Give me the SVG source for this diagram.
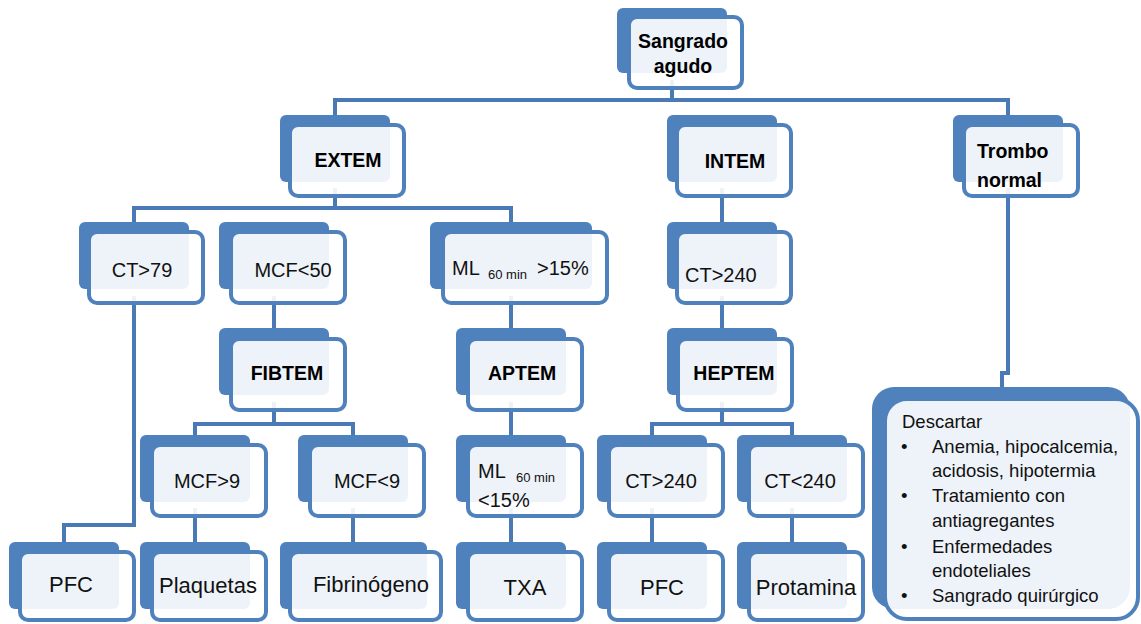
<svg xmlns="http://www.w3.org/2000/svg" width="1141" height="624" viewBox="0 0 1141 624">
<style>
.back{fill:#4F81BD}
.front{fill:#fff;fill-opacity:0.9;stroke:#4F81BD;stroke-width:4}
.conn{fill:none;stroke:#4A7AB5;stroke-width:4}
.b{font-family:"Liberation Sans",Arial,sans-serif;font-weight:bold;font-size:19.5px;fill:#000;text-anchor:middle}
.t{font-family:"Liberation Sans",Arial,sans-serif;font-size:20px;fill:#111;text-anchor:middle}
.t2{font-family:"Liberation Sans",Arial,sans-serif;font-size:22px;fill:#111;text-anchor:middle}
.s{font-family:"Liberation Sans",Arial,sans-serif;font-size:13px;fill:#111}
.l{font-family:"Liberation Sans",Arial,sans-serif;font-size:20px;fill:#111}
.d{font-family:"Liberation Sans",Arial,sans-serif;font-size:18.5px;fill:#111}
</style>
<rect width="1141" height="624" fill="#fff"/>
<g id="connectors">
<path class="conn" d="M672 80 V100 M335 115 V100 H1008 V115"/>
<path class="conn" d="M335 188 V208 M134 222 V208 H511 V222"/>
<path class="conn" d="M722 188 V222"/>
<path class="conn" d="M134 296 V525 H64 V542"/>
<path class="conn" d="M274 296 V328 M511 296 V328 M722 296 V328"/>
<path class="conn" d="M274 402 V424 M195 435 V424 H353 V435"/>
<path class="conn" d="M511 402 V435"/>
<path class="conn" d="M722 402 V424 M652 435 V424 H792 V435"/>
<path class="conn" d="M195 508 V542 M353 508 V542 M511 508 V542 M652 508 V542 M792 508 V542"/>
<path class="conn" d="M1008 188 V373 H1002 V387"/>
</g>
<g id="n-sangrado"><rect class="back" x="617" y="8" width="110" height="65" rx="6"/><rect class="front" x="629" y="17" width="113" height="71" rx="8"/><text class="b" x="683" y="48">Sangrado</text><text class="b" x="683" y="73">agudo</text></g>
<g id="n-extem"><rect class="back" x="280" y="115" width="110" height="67" rx="6"/><rect class="front" x="290" y="125" width="114" height="71" rx="8"/><text class="b" x="348" y="167">EXTEM</text></g>
<g id="n-intem"><rect class="back" x="667" y="115" width="110" height="67" rx="6"/><rect class="front" x="677" y="125" width="114" height="71" rx="8"/><text class="b" x="735" y="168">INTEM</text></g>
<g id="n-trombo"><rect class="back" x="953" y="115" width="110" height="67" rx="6"/><rect class="front" x="964" y="125" width="114" height="71" rx="8"/><text class="b" x="977" y="158" style="text-anchor:start">Trombo</text><text class="b" x="977" y="187" style="text-anchor:start">normal</text></g>
<g id="n-ct79"><rect class="back" x="79" y="222" width="110" height="67" rx="6"/><rect class="front" x="89" y="232" width="114" height="71" rx="8"/><text class="t" x="142" y="277">CT&gt;79</text></g>
<g id="n-mcf50"><rect class="back" x="219" y="222" width="110" height="67" rx="6"/><rect class="front" x="231" y="232" width="114" height="71" rx="8"/><text class="t" x="293" y="277">MCF&lt;50</text></g>
<g id="n-ml15a"><rect class="back" x="430" y="222" width="162" height="67" rx="6"/><rect class="front" x="443" y="232" width="164" height="71" rx="8"/><text class="l" x="452" y="275">ML</text><text class="s" x="488" y="279">60 min</text><text class="l" x="537" y="275">&gt;15%</text></g>
<g id="n-ct240a"><rect class="back" x="667" y="222" width="110" height="67" rx="6"/><rect class="front" x="677" y="232" width="114" height="71" rx="8"/><text class="l" x="685" y="282">CT&gt;240</text></g>
<g id="n-fibtem"><rect class="back" x="219" y="328" width="110" height="67" rx="6"/><rect class="front" x="231" y="339" width="114" height="71" rx="8"/><text class="b" x="287" y="380">FIBTEM</text></g>
<g id="n-aptem"><rect class="back" x="456" y="328" width="110" height="67" rx="6"/><rect class="front" x="468" y="339" width="114" height="71" rx="8"/><text class="b" x="522" y="380">APTEM</text></g>
<g id="n-heptem"><rect class="back" x="667" y="328" width="110" height="67" rx="6"/><rect class="front" x="678" y="339" width="114" height="71" rx="8"/><text class="b" x="734" y="380">HEPTEM</text></g>
<g id="n-mcf9a"><rect class="back" x="140" y="435" width="110" height="67" rx="6"/><rect class="front" x="152" y="445" width="114" height="71" rx="8"/><text class="t" x="207" y="488">MCF&gt;9</text></g>
<g id="n-mcf9b"><rect class="back" x="298" y="435" width="110" height="67" rx="6"/><rect class="front" x="310" y="445" width="114" height="71" rx="8"/><text class="t" x="367" y="488">MCF&lt;9</text></g>
<g id="n-ml15b"><rect class="back" x="456" y="435" width="110" height="67" rx="6"/><rect class="front" x="468" y="445" width="114" height="71" rx="8"/><text class="l" x="478" y="478">ML</text><text class="s" x="516" y="482">60 min</text><text class="l" x="478" y="507">&lt;15%</text></g>
<g id="n-ct240b"><rect class="back" x="597" y="435" width="110" height="67" rx="6"/><rect class="front" x="609" y="445" width="114" height="71" rx="8"/><text class="t" x="661" y="488">CT&gt;240</text></g>
<g id="n-ct240c"><rect class="back" x="737" y="435" width="110" height="67" rx="6"/><rect class="front" x="749" y="445" width="114" height="71" rx="8"/><text class="t" x="800" y="488">CT&lt;240</text></g>
<g id="n-pfc1"><rect class="back" x="9" y="542" width="110" height="67" rx="6"/><rect class="front" x="20" y="552" width="114" height="68" rx="8"/><text class="t2" x="71" y="592">PFC</text></g>
<g id="n-plaquetas"><rect class="back" x="140" y="542" width="110" height="67" rx="6"/><rect class="front" x="152" y="552" width="114" height="68" rx="8"/><text class="t2" x="208" y="593">Plaquetas</text></g>
<g id="n-fibrinogeno"><rect class="back" x="280" y="542" width="147" height="67" rx="6"/><rect class="front" x="290" y="552" width="151" height="68" rx="8"/><text class="t2" x="371" y="592">Fibrinógeno</text></g>
<g id="n-txa"><rect class="back" x="456" y="542" width="110" height="67" rx="6"/><rect class="front" x="468" y="552" width="114" height="68" rx="8"/><text class="t2" x="525" y="595">TXA</text></g>
<g id="n-pfc2"><rect class="back" x="597" y="542" width="110" height="67" rx="6"/><rect class="front" x="609" y="552" width="114" height="68" rx="8"/><text class="t2" x="662" y="595">PFC</text></g>
<g id="n-protamina"><rect class="back" x="737" y="542" width="110" height="67" rx="6"/><rect class="front" x="749" y="552" width="114" height="68" rx="8"/><text class="t2" x="806" y="595">Protamina</text></g>
<g id="n-descartar"><rect class="back" x="872" y="387" width="258" height="222" rx="22"/><rect class="front" x="885" y="399" width="253" height="220" rx="22"/>
<text class="d" x="902" y="428">Descartar</text>
<text class="d" x="901" y="453">•</text><text class="d" x="932" y="453">Anemia, hipocalcemia,</text>
<text class="d" x="932" y="477">acidosis, hipotermia</text>
<text class="d" x="901" y="502">•</text><text class="d" x="932" y="502">Tratamiento con</text>
<text class="d" x="932" y="527">antiagregantes</text>
<text class="d" x="901" y="553">•</text><text class="d" x="932" y="553">Enfermedades</text>
<text class="d" x="932" y="577">endoteliales</text>
<text class="d" x="901" y="602">•</text><text class="d" x="932" y="602">Sangrado quirúrgico</text>
</g>
</svg>
